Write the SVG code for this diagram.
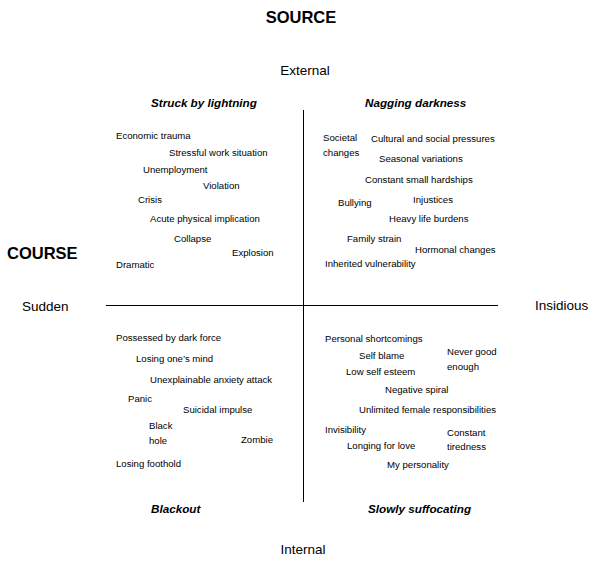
<svg xmlns="http://www.w3.org/2000/svg" width="600" height="570" viewBox="0 0 600 570">
<style>
text{font-family:"Liberation Sans",Arial,sans-serif;fill:#000}
.h{font-size:16.5px;font-weight:bold}
.ax{font-size:13.5px}
.q{font-size:11.7px;font-weight:bold;font-style:italic}
.i{font-size:9.6px}
.c{text-anchor:middle}
</style>
<rect width="600" height="570" fill="#fff"/>
<g id="axes" stroke="#000" stroke-width="1">
<line x1="303.5" y1="110" x2="303.5" y2="502"/>
<line x1="106" y1="305.5" x2="498" y2="305.5"/>
</g>
<g id="titles">
<text class="h c" x="301" y="23">SOURCE</text>
<text class="h" x="7" y="259">COURSE</text>
<text class="ax c" x="305" y="75">External</text>
<text class="ax c" x="303" y="554">Internal</text>
<text class="ax" x="22" y="311">Sudden</text>
<text class="ax" x="535" y="310">Insidious</text>
</g>
<g id="q-struck">
<text class="q" x="151" y="107">Struck by lightning</text>
<text class="i" x="116" y="139">Economic trauma</text>
<text class="i" x="169" y="156">Stressful work situation</text>
<text class="i" x="143" y="173">Unemployment</text>
<text class="i" x="203" y="189">Violation</text>
<text class="i" x="138" y="203">Crisis</text>
<text class="i" x="150" y="222">Acute physical implication</text>
<text class="i" x="174" y="242">Collapse</text>
<text class="i" x="232" y="256">Explosion</text>
<text class="i" x="116" y="268">Dramatic</text>
</g>
<g id="q-nagging">
<text class="q" x="365" y="107">Nagging darkness</text>
<text class="i" x="323" y="141">Societal</text>
<text class="i" x="323" y="156">changes</text>
<text class="i" x="371" y="142">Cultural and social pressures</text>
<text class="i" x="379" y="162">Seasonal variations</text>
<text class="i" x="365" y="183">Constant small hardships</text>
<text class="i" x="338" y="206">Bullying</text>
<text class="i" x="413" y="203">Injustices</text>
<text class="i" x="389" y="222">Heavy life burdens</text>
<text class="i" x="347" y="242">Family strain</text>
<text class="i" x="415" y="253">Hormonal changes</text>
<text class="i" x="325" y="267">Inherited vulnerability</text>
</g>
<g id="q-blackout">
<text class="q" x="151" y="513">Blackout</text>
<text class="i" x="116" y="341">Possessed by dark force</text>
<text class="i" x="136" y="362">Losing one’s mind</text>
<text class="i" x="150" y="383">Unexplainable anxiety attack</text>
<text class="i" x="128" y="402">Panic</text>
<text class="i" x="183" y="413">Suicidal impulse</text>
<text class="i" x="149" y="429">Black</text>
<text class="i" x="149" y="444">hole</text>
<text class="i" x="241" y="443">Zombie</text>
<text class="i" x="116" y="467">Losing foothold</text>
</g>
<g id="q-slowly">
<text class="q" x="368" y="513">Slowly suffocating</text>
<text class="i" x="325" y="342">Personal shortcomings</text>
<text class="i" x="359" y="359">Self blame</text>
<text class="i" x="447" y="355">Never good</text>
<text class="i" x="447" y="370">enough</text>
<text class="i" x="346" y="375">Low self esteem</text>
<text class="i" x="385" y="393">Negative spiral</text>
<text class="i" x="359" y="413">Unlimited female responsibilities</text>
<text class="i" x="325" y="433">Invisibility</text>
<text class="i" x="447" y="436">Constant</text>
<text class="i" x="447" y="450">tiredness</text>
<text class="i" x="347" y="449">Longing for love</text>
<text class="i" x="387" y="468">My personality</text>
</g>
</svg>
